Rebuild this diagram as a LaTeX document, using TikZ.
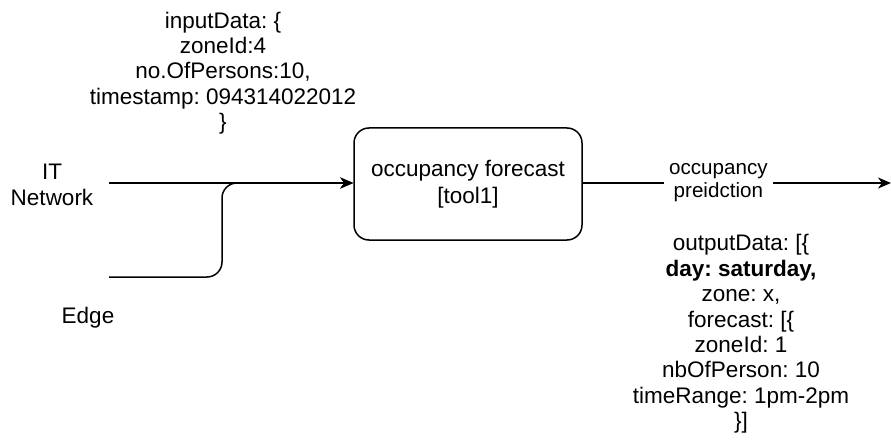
\documentclass[tikz,border=0pt]{standalone}
\usepackage{fontspec}
\setmainfont{Liberation Sans}
\usetikzlibrary{arrows.meta}

\tikzset{
  txt/.style={inner sep=0pt, align=center,
    font=\fontsize{22.5}{25.4}\selectfont\frenchspacing},
  lbl/.style={inner sep=5pt, align=center, fill=white,
    font=\fontsize{20.6}{23}\selectfont\frenchspacing},
  proc/.style={draw, line width=1.5pt, rounded corners=15pt,
    minimum width=228pt, minimum height=112pt, txt},
  flow/.style={line width=1.5pt,
    -{Stealth[length=13pt, width=11pt, inset=4pt]}},
}

\begin{document}
\begin{tikzpicture}[x=1pt, y=-1pt]
  \useasboundingbox (0,0) rectangle (891,441);

  % processing step
  \node[proc] (tool) at (468,184) {occupancy forecast\\[1.5pt][tool1]};

  % sources
  \node[txt] (it)   at (52,185)  {IT\\Network};
  \node[txt] (edge) at (88,318)  {Edge};

  \coordinate (itstart)   at (109,183);
  \coordinate (edgestart) at (109,277);
  \coordinate (merge)     at (222,183);
  \coordinate (outend)    at (891,183);

  % incoming flows
  \draw[flow] (itstart) -- (itstart -| tool.west);
  \draw[flow, rounded corners=15pt] (edgestart) -| (merge) -- (merge -| tool.west);

  % outgoing flow
  \draw[flow] (tool.east |- outend) -- (outend)
    node[lbl, pos=0.44] (pred) {occupancy\\preidction};

  % payload descriptions
  \node[txt] (input) at (223,73) {inputData: \{\\zoneId:4\\no.OfPersons:10,\\timestamp: 094314022012\\\}};
  \node[txt] (output) at (741,334) {outputData: [\{\\\textbf{day: saturday,}\\zone: x,\\forecast: [\{\\zoneId: 1\\nbOfPerson: 10\\timeRange: 1pm-2pm\\\}]};
\end{tikzpicture}
\end{document}
